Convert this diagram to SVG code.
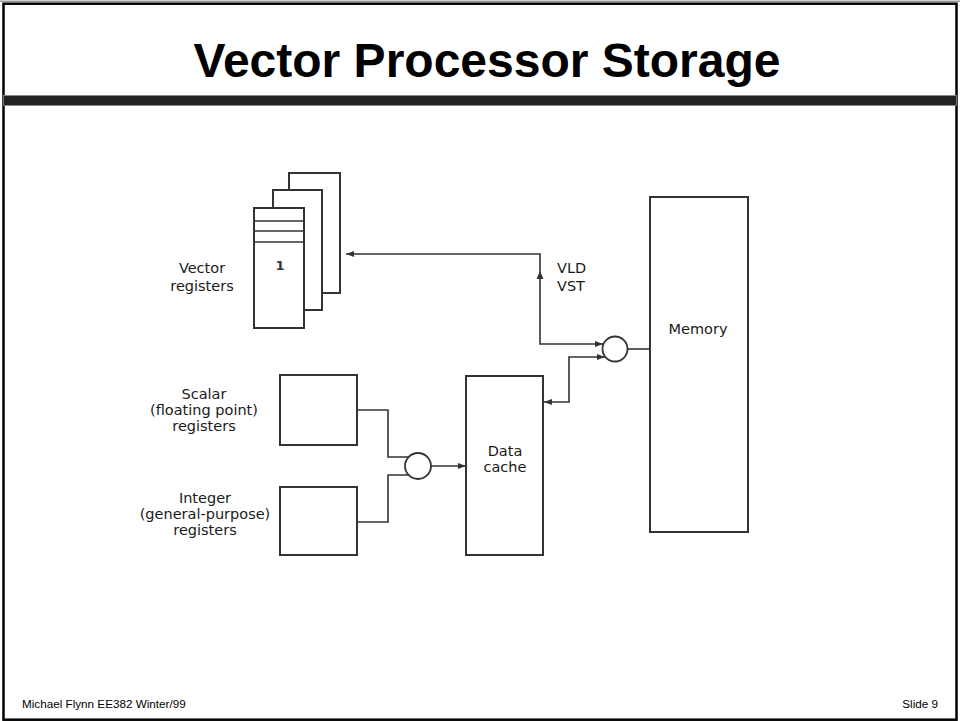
<svg xmlns="http://www.w3.org/2000/svg" width="960" height="721" viewBox="0 0 960 721">
<defs>
<style>
.box{fill:#fff;stroke:#333;stroke-width:2}
.ln{fill:none;stroke:#333;stroke-width:1.6}
.lbl{font-family:"DejaVu Sans","Liberation Sans",sans-serif;font-size:14.5px;fill:#1a1a1a;text-anchor:middle}
.lbls{font-family:"DejaVu Sans","Liberation Sans",sans-serif;font-size:14.5px;fill:#1a1a1a;text-anchor:start}
.foot{font-family:"Liberation Sans",Arial,sans-serif;font-size:11.7px;fill:#000}
</style>
<marker id="ah" markerUnits="userSpaceOnUse" markerWidth="8" markerHeight="6" refX="8" refY="3" orient="auto">
<path d="M0,0 L8,3 L0,6 z" fill="#333"/>
</marker>
</defs>
<rect x="0" y="0" width="960" height="721" fill="#fff"/>
<line x1="0" y1="1.2" x2="960" y2="1.2" stroke="#999" stroke-width="1.5"/>
<rect x="3.5" y="3.7" width="953" height="716" fill="none" stroke="#000" stroke-width="2.5"/>
<rect x="3.5" y="95.5" width="953" height="10" fill="#222" stroke="#888" stroke-width="0.8"/>
<text x="487" y="77" font-family="'Liberation Sans',Arial,sans-serif" font-size="48" font-weight="bold" text-anchor="middle">Vector Processor Storage</text>
<text class="foot" x="22" y="708">Michael Flynn EE382 Winter/99</text>
<text class="foot" x="938" y="708" text-anchor="end">Slide 9</text>

<g id="vector-registers">
<rect class="box" x="289" y="173" width="51" height="120"/>
<rect class="box" x="273" y="190" width="49" height="120"/>
<rect class="box" x="254" y="208" width="50" height="120"/>
<line class="ln" x1="254" y1="221" x2="304" y2="221"/>
<line class="ln" x1="254" y1="231" x2="304" y2="231"/>
<line class="ln" x1="254" y1="242" x2="304" y2="242"/>
<text x="280" y="270" font-family="'DejaVu Sans',sans-serif" font-size="13" font-weight="bold" fill="#333" text-anchor="middle">1</text>
<text class="lbl" x="202" y="273">Vector</text>
<text class="lbl" x="202" y="291">registers</text>
</g>

<g id="scalar-registers">
<rect class="box" x="280" y="375" width="77" height="70"/>
<text class="lbl" x="204" y="399">Scalar</text>
<text class="lbl" x="204" y="415">(floating point)</text>
<text class="lbl" x="204" y="431">registers</text>
</g>

<g id="integer-registers">
<rect class="box" x="280" y="487" width="77" height="68"/>
<text class="lbl" x="205" y="503">Integer</text>
<text class="lbl" x="205" y="519">(general-purpose)</text>
<text class="lbl" x="205" y="535">registers</text>
</g>

<g id="mux-registers">
<circle cx="418" cy="466" r="13" fill="#fff" stroke="#333" stroke-width="1.8"/>
</g>

<g id="data-cache">
<rect class="box" x="466" y="376" width="77" height="179"/>
<text class="lbl" x="505" y="456">Data</text>
<text class="lbl" x="505" y="472">cache</text>
</g>

<g id="mux-memory">
<circle cx="615" cy="349" r="12.5" fill="#fff" stroke="#333" stroke-width="1.8"/>
</g>

<g id="memory">
<rect class="box" x="650" y="197" width="98" height="335"/>
<text class="lbl" x="698" y="334">Memory</text>
</g>

<g id="vld-vst-label">
<text class="lbls" x="557" y="273">VLD</text>
<text class="lbls" x="557" y="291">VST</text>
</g>

<g id="connectors">
<path class="ln" d="M540,300 V254 H346" marker-end="url(#ah)"/>
<path class="ln" d="M540,300 V344 H603" marker-end="url(#ah)"/>
<polygon points="540,271 536.5,279 543.5,279" fill="#333"/>
<path class="ln" d="M569,380 V357 H605" marker-end="url(#ah)"/>
<path class="ln" d="M569,380 V402 H544" marker-end="url(#ah)"/>
<path class="ln" d="M627.5,349 H650"/>
<path class="ln" d="M357,410 H388 V457 H409"/>
<path class="ln" d="M357,522 H388 V475 H409"/>
<path class="ln" d="M431,466 H466" marker-end="url(#ah)"/>
</g>
</svg>
